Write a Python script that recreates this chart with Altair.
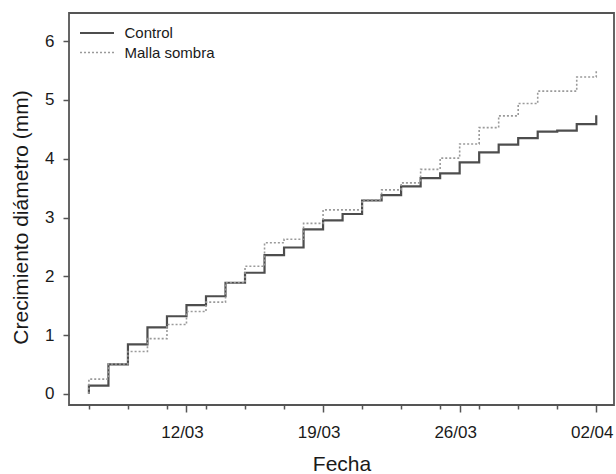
import altair as alt
import pandas as pd

dates = ["03-07", "03-08", "03-09", "03-10", "03-11", "03-12", "03-13", "03-14", "03-15",
         "03-16", "03-17", "03-18", "03-19", "03-20", "03-21", "03-22", "03-23", "03-24",
         "03-25", "03-26", "03-27", "03-28", "03-29", "03-30", "03-31", "04-01", "04-02"]

control = [0.14, 0.50, 0.84, 1.13, 1.32, 1.51, 1.66, 1.89, 2.06, 2.36, 2.49, 2.80, 2.95,
           3.06, 3.29, 3.38, 3.53, 3.67, 3.75, 3.94, 4.11, 4.24, 4.35, 4.46, 4.48, 4.59, 4.74]

malla = [0.25, 0.51, 0.72, 0.94, 1.18, 1.40, 1.56, 1.89, 2.17, 2.57, 2.63, 2.90, 3.13,
         3.13, 3.30, 3.47, 3.59, 3.82, 4.01, 4.25, 4.53, 4.73, 4.94, 5.15, 5.15, 5.39, 5.52]

series = ["Control", "Malla sombra"]
start_value = 0.0
year = 2024

rows = []
for name, vals in zip(series, [control, malla]):
    rows.append({"serie": name, "fecha": f"{year}-{dates[0]}T00:00:00", "valor": start_value, "orden": 0})
    for i, (d, v) in enumerate(zip(dates, vals)):
        rows.append({"serie": name, "fecha": f"{year}-{d}T00:00:00", "valor": v, "orden": i + 1})
df = pd.DataFrame(rows)

tick_days = [(3, 7), (3, 9), (3, 11), (3, 12), (3, 13), (3, 15), (3, 17), (3, 19), (3, 21),
             (3, 23), (3, 25), (3, 26), (3, 27), (3, 29), (3, 31), (4, 2)]
major_days = [2, 12, 19, 26]

font = "Liberation Sans"

x_axis = alt.Axis(
    values=[alt.DateTime(year=year, month=m, date=d) for m, d in tick_days],
    format="%d/%m",
    labelExpr=f"indexof({major_days}, date(datum.value)) >= 0 ? datum.label : ''",
    labelOverlap=False,
    labelOffset=-4.5,
    tickSize={"condition": {"test": f"indexof({major_days}, date(datum.value)) >= 0", "value": 7}, "value": 4},
    tickColor="#555555",
    tickWidth=1.5,
    domain=False,
    grid=False,
    labelFontSize=17,
    labelFont=font,
    labelColor="#1a1a1a",
    labelPadding=12,
    title="Fecha",
    titleFont=font,
    titleFontSize=21,
    titleFontWeight="normal",
    titleColor="#1a1a1a",
    titlePadding=13,
)

y_axis = alt.Axis(
    values=[0, 1, 2, 3, 4, 5, 6],
    tickSize=6,
    tickColor="#555555",
    tickWidth=1.5,
    domain=False,
    grid=False,
    labelFontSize=17,
    labelFont=font,
    labelColor="#1a1a1a",
    labelPadding=9,
    title="Crecimiento diámetro (mm)",
    titleFont=font,
    titleFontSize=21,
    titleFontWeight="normal",
    titleColor="#1a1a1a",
    titlePadding=13,
    titleY=204,
)

chart = alt.Chart(df).mark_line(interpolate="step-after").encode(
    x=alt.X("fecha:T", axis=x_axis,
            scale=alt.Scale(domain=[alt.DateTime(year=year, month=3, date=5, hours=23, minutes=30),
                                    alt.DateTime(year=year, month=4, date=2, hours=21, minutes=50)])),
    y=alt.Y("valor:Q", axis=y_axis, scale=alt.Scale(domain=[-0.19, 6.48], nice=False, zero=False)),
    color=alt.Color("serie:N", scale=alt.Scale(domain=series, range=["#4d4d4d", "#9a9a9a"]),
                    legend=alt.Legend(title=None, orient="none", legendX=18, legendY=10,
                                      symbolType="M-2,0H2", symbolSize=289, labelFontSize=15,
                                      labelFont=font, labelColor="#1a1a1a", labelOffset=17.5,
                                      rowPadding=2, padding=0)),
    strokeDash=alt.StrokeDash("serie:N", scale=alt.Scale(domain=series, range=[[1, 0], [2, 2]]), legend=None),
    strokeWidth=alt.StrokeWidth("serie:N", scale=alt.Scale(domain=series, range=[2.2, 1.6]), legend=None),
    order=alt.Order("orden:Q"),
).properties(
    width=545,
    height=392,
    autosize=alt.AutoSizeParams(type="none"),
    padding={"left": 69, "top": 13, "right": 2, "bottom": 69},
    background="white",
).configure_view(
    stroke="#555555",
    strokeWidth=1.8,
)

chart.save("out.html", embed_options={"renderer": "svg", "actions": False})
